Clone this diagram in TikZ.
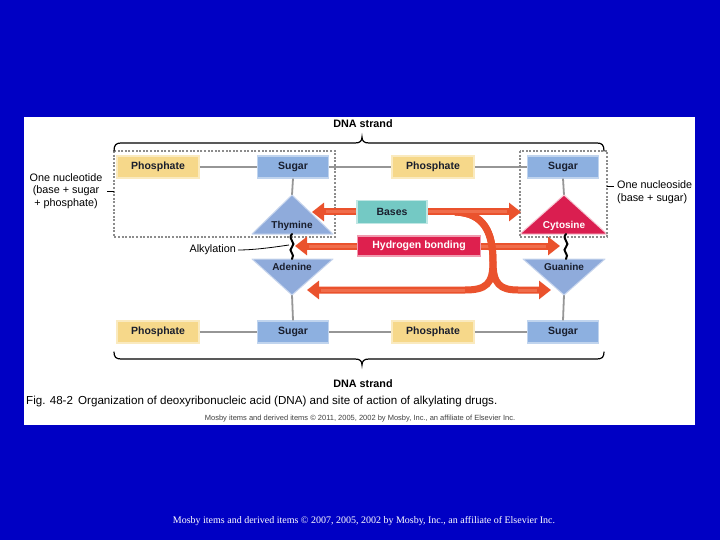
\documentclass[tikz,border=0pt]{standalone}
\usepackage{fontspec}
\setmainfont{Liberation Sans}
\newfontfamily\footserif{Liberation Serif}
\usetikzlibrary{arrows.meta}
\definecolor{bgblue}{RGB}{0,0,196}
\definecolor{phos}{RGB}{246,216,138}
\definecolor{sugarc}{RGB}{141,176,224}
\definecolor{tric}{RGB}{143,171,219}
\definecolor{cyto}{RGB}{218,30,80}
\definecolor{hbond}{RGB}{222,32,78}
\definecolor{basesc}{RGB}{116,201,196}
\definecolor{arr}{RGB}{234,82,45}
\definecolor{arrlight}{RGB}{244,128,95}
\definecolor{gline}{RGB}{150,150,150}
\definecolor{dashc}{RGB}{140,140,140}
\definecolor{labc}{RGB}{25,30,45}
\tikzset{
  boxlabel/.style={font=\fontsize{10.5}{12}\selectfont\bfseries, text=labc, inner sep=0pt, minimum height=22pt},
  phosbox/.style={boxlabel, fill=phos, draw=phos!55!white, line width=1.2pt, minimum width=82pt},
  sugarbox/.style={boxlabel, fill=sugarc, draw=sugarc!55!white, line width=1.2pt, minimum width=71pt},
  basesbox/.style={boxlabel, fill=basesc, draw=basesc!45!white, line width=1.2pt, minimum width=70pt, minimum height=23pt},
  hbbox/.style={boxlabel, text=white, fill=hbond, draw=hbond!45!white, line width=1.2pt, minimum width=123pt, minimum height=20pt},
  connline/.style={gline, line width=2.6pt},
  vline/.style={gline, line width=1.8pt},
  trifill/.style={fill=tric, draw=tric!50!white, line width=1pt, line join=round},
  trilabel/.style={font=\fontsize{10}{12}\selectfont\bfseries, text=labc, inner sep=0pt},
  dashbox/.style={dashc, line width=1.2pt, dash pattern=on 2pt off 1.6pt},
  brace/.style={black, line width=1.2pt, line cap=round},
  redarrow/.style={arr, line width=7pt, -{Triangle[length=12pt,width=18pt]}},
  glow/.style={arrlight, line width=3pt, opacity=0.6, shorten >=14pt},
  plain/.style={font=\fontsize{10.8}{12.5}\selectfont, inner sep=0pt},
  squig/.style={black, line width=2pt, line cap=round},
}
\begin{document}
\begin{tikzpicture}[x=1pt,y=-1pt]
\fill[bgblue] (0,0) rectangle (720,540);
\fill[white] (24,117) rectangle (695,425);
\useasboundingbox (0,0) rectangle (720,540);

% coordinates for triangles
\coordinate (thyA) at (292,195);
\coordinate (adeA) at (292,295);
\coordinate (cytA) at (564,195);
\coordinate (guaA) at (564,295);

% boxes
\node[phosbox] (p1) at (158,167) {Phosphate};
\node[sugarbox] (s1) at (293,167) {Sugar};
\node[phosbox] (p2) at (433,167) {Phosphate};
\node[sugarbox] (s2) at (563,167) {Sugar};
\node[phosbox] (p3) at (158,332) {Phosphate};
\node[sugarbox] (s3) at (293,332) {Sugar};
\node[phosbox] (p4) at (433,332) {Phosphate};
\node[sugarbox] (s4) at (563,332) {Sugar};

% backbone lines
\draw[connline] (p1.east) -- (s1.west);
\draw[connline] (s1.east) -- (p2.west);
\draw[connline] (p2.east) -- (s2.west);
\draw[connline] (p3.east) -- (s3.west);
\draw[connline] (s3.east) -- (p4.west);
\draw[connline] (p4.east) -- (s4.west);
\draw[vline] (s1.south) -- (thyA);
\draw[vline] (s2.south) -- (cytA);
\draw[vline] (adeA) -- (s3.north);
\draw[vline] (guaA) -- (s4.north);

% triangles
\filldraw[trifill] (thyA) -- (333,234) -- (252,234) -- cycle;
\filldraw[trifill] (252,259) -- (333,259) -- (adeA) -- cycle;
\filldraw[trifill, fill=cyto, draw=white!75!cyto] (cytA) -- (607,234) -- (520,234) -- cycle;
\filldraw[trifill] (523,259) -- (605,259) -- (guaA) -- cycle;
\node[trilabel] (thy) at (292,226) {Thymine};
\node[trilabel] (ade) at (292,267) {Adenine};
\node[trilabel, text=white] (cyt) at (564,226) {Cytosine};
\node[trilabel] (gua) at (564,267) {Guanine};

% dashed boxes
\draw[dashbox] (114,151) rectangle (335,237);
\draw[dashbox] (520,151) rectangle (607,237);

% squiggles
\coordinate (sq1a) at (292,234);
\coordinate (sq1b) at (292,259);
\coordinate (sq2a) at (566,234);
\coordinate (sq2b) at (566,259);
\draw[squig] (sq1a) .. controls (287,239) and (297,243) .. (292,247) .. controls (287,251) and (296,254) .. (sq1b);
\draw[squig] (sq2a) .. controls (561,239) and (571,243) .. (566,247) .. controls (561,251) and (570,254) .. (sq2b);

% middle boxes (named, placed first for anchors)
\node[basesbox] (bases) at (392,212) {Bases};
\node[hbbox] (hb) at (419,246) {Hydrogen bonding};

% arrow targets
\coordinate (tThy) at (312,212);
\coordinate (tCyt) at (521,212);
\coordinate (tSq1) at (295,246);
\coordinate (tSq2) at (560,246);
\coordinate (tAde) at (307,290);
\coordinate (tGua) at (551,290);
\coordinate (fork) at (493,262);

% arrows
\draw[redarrow] (hb.west) -- (tSq1);
\draw[glow] (hb.west) -- (tSq1);
\draw[redarrow] (hb.east) -- (tSq2);
\draw[glow] (hb.east) -- (tSq2);
\draw[redarrow] (455,212) .. controls (484,213) and (493,232) .. (fork) .. controls (493,284) and (486,290) .. (465,290) -- (tAde);
\draw[redarrow] (455,212) .. controls (484,213) and (493,232) .. (fork) .. controls (493,284) and (500,290) .. (518,290) -- (tGua);
\draw[glow] (465,290) -- (tAde);
\draw[glow] (518,290) -- (tGua);
\draw[redarrow] (bases.west) -- (tThy);
\draw[glow] (bases.west) -- (tThy);
\draw[redarrow] (bases.east) -- (tCyt);
\draw[glow] (bases.east) -- (tCyt);
\node[basesbox] at (392,212) {Bases};
\node[hbbox] at (419,246) {Hydrogen bonding};

% braces
\draw[brace] (114,151) .. controls (114,145) and (116,143) .. (121,143) -- (355,143) .. controls (360,143) and (362,141) .. (362,137) .. controls (362,141) and (364,143) .. (369,143) -- (597,143) .. controls (602,143) and (604,145) .. (604,151);
\draw[brace] (114,352) .. controls (114,357) and (116,359) .. (121,359) -- (355,359) .. controls (360,359) and (362,361) .. (362,365) .. controls (362,361) and (364,359) .. (369,359) -- (597,359) .. controls (602,359) and (604,357) .. (604,352);
\node[font=\fontsize{10.8}{12}\selectfont\bfseries, inner sep=0pt] (dnatop) at (363,124) {DNA strand};
\node[font=\fontsize{10.8}{12}\selectfont\bfseries, inner sep=0pt] (dnabot) at (363,384) {DNA strand};

% side labels
\node[plain, align=center] (nucleotide) at (66,191) {One nucleotide\\(base + sugar\\+ phosphate)};
\coordinate (ntd) at (114,191);
\draw[black, line width=0.8pt] (107,191) -- (ntd);
\coordinate (nsd) at (607,186);
\draw[black, line width=0.8pt] (nsd) -- (614,186);
\node[plain, align=left, anchor=west] (nucleoside) at (617,192) {One nucleoside\\(base + sugar)};
\node[plain, anchor=east] (alk) at (236,250) {Alkylation};
\coordinate (alkend) at (289,245);
\draw[black, line width=0.8pt] (alk.east) ++(2,0) .. controls (255,250) and (275,247) .. (alkend);

% caption
\node[font=\fontsize{11.6}{13}\selectfont, anchor=west, inner sep=0pt] (cap) at (26,401) {Fig. 48-2\, Organization of deoxyribonucleic acid (DNA) and site of action of alkylating drugs.};
\node[font=\fontsize{7.5}{8}\selectfont, text=black!75, inner sep=0pt] (credit) at (360,419) {Mosby items and derived items \textcopyright\ 2011, 2005, 2002 by Mosby, Inc., an affiliate of Elsevier Inc.};
\node[font=\footserif\fontsize{10}{12}\selectfont, text=white, inner sep=0pt] (footer) at (364,521) {Mosby items and derived items \textcopyright\ 2007, 2005, 2002 by Mosby, Inc., an affiliate of Elsevier Inc.};
\end{tikzpicture}
\end{document}
